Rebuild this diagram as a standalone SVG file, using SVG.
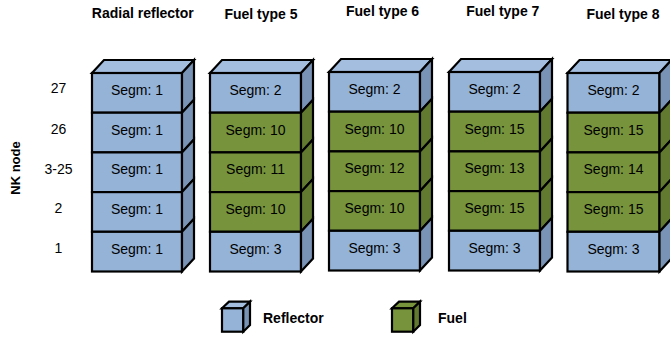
<svg xmlns="http://www.w3.org/2000/svg" width="670" height="338" viewBox="0 0 670 338">
<style>
  .bf{fill:#95B3D7;stroke:#000;stroke-width:2.2}
  .bt{fill:#A3BEDE;stroke:#000;stroke-width:2.2}
  .bs{fill:#7893B5;stroke:#000;stroke-width:2.2}
  .gf{fill:#77933C;stroke:#000;stroke-width:2.2}
  .gs{fill:#627A30;stroke:#000;stroke-width:2.2}
  .seg{font-family:"Liberation Sans",Arial,sans-serif;font-size:14px;fill:#000;text-anchor:middle}
  .hdr{font-family:"Liberation Sans",Arial,sans-serif;font-size:14px;font-weight:bold;fill:#000;text-anchor:middle}
  .nk{font-family:"Liberation Sans",Arial,sans-serif;font-size:13px;font-weight:bold;fill:#000;text-anchor:middle}
  .lbl{font-family:"Liberation Sans",Arial,sans-serif;font-size:14px;fill:#000;text-anchor:middle}
  .leg{font-family:"Liberation Sans",Arial,sans-serif;font-size:14px;font-weight:bold;fill:#000}
</style>
<rect width="670" height="338" fill="#fff"/>

<g id="headers">
  <text class="hdr" x="142.8" y="18.3">Radial reflector</text>
  <text class="hdr" x="261" y="18.5">Fuel type 5</text>
  <text class="hdr" x="382.6" y="16">Fuel type 6</text>
  <text class="hdr" x="502.8" y="16">Fuel type 7</text>
  <text class="hdr" x="623" y="18.5">Fuel type 8</text>
</g>

<g id="axis-labels">
  <text class="nk" transform="translate(20,168) rotate(-90)">NK node</text>
  <text class="lbl" x="58.5" y="93">27</text>
  <text class="lbl" x="58.5" y="133.5">26</text>
  <text class="lbl" x="58.5" y="173.5">3-25</text>
  <text class="lbl" x="58.5" y="213">2</text>
  <text class="lbl" x="58.5" y="253">1</text>
</g>

<!-- Radial reflector column -->
<g id="col-radial" transform="translate(92,73)">
  <polygon class="bt" points="0,0 12,-13 102,-13 90,0"/>
  <rect class="bf" x="0" y="0" width="90" height="39.7"/>
  <polygon class="bs" points="90,0 102,-13 102,26.7 90,39.7"/>
  <text class="seg" x="45" y="22">Segm: 1</text>
  <rect class="bf" x="0" y="39.7" width="90" height="39.7"/>
  <polygon class="bs" points="90,39.7 102,26.7 102,66.4 90,79.4"/>
  <text class="seg" x="45" y="61.7">Segm: 1</text>
  <rect class="bf" x="0" y="79.4" width="90" height="39.7"/>
  <polygon class="bs" points="90,79.4 102,66.4 102,106.1 90,119.1"/>
  <text class="seg" x="45" y="101.4">Segm: 1</text>
  <rect class="bf" x="0" y="119.1" width="90" height="39.7"/>
  <polygon class="bs" points="90,119.1 102,106.1 102,145.8 90,158.8"/>
  <text class="seg" x="45" y="141.1">Segm: 1</text>
  <rect class="bf" x="0" y="158.8" width="90" height="39.7"/>
  <polygon class="bs" points="90,158.8 102,145.8 102,185.5 90,198.5"/>
  <text class="seg" x="45" y="180.8">Segm: 1</text>
</g>

<!-- Fuel type 5 -->
<g id="col-fuel5" transform="translate(210,73)">
  <polygon class="bt" points="0,0 12,-13 103,-13 91,0"/>
  <rect class="bf" x="0" y="0" width="91" height="39.7"/>
  <polygon class="bs" points="91,0 103,-13 103,26.7 91,39.7"/>
  <text class="seg" x="45.5" y="22">Segm: 2</text>
  <rect class="gf" x="0" y="39.7" width="91" height="39.7"/>
  <polygon class="gs" points="91,39.7 103,26.7 103,66.4 91,79.4"/>
  <text class="seg" x="45.5" y="61.7">Segm: 10</text>
  <rect class="gf" x="0" y="79.4" width="91" height="39.7"/>
  <polygon class="gs" points="91,79.4 103,66.4 103,106.1 91,119.1"/>
  <text class="seg" x="45.5" y="101.4">Segm: 11</text>
  <rect class="gf" x="0" y="119.1" width="91" height="39.7"/>
  <polygon class="gs" points="91,119.1 103,106.1 103,145.8 91,158.8"/>
  <text class="seg" x="45.5" y="141.1">Segm: 10</text>
  <rect class="bf" x="0" y="158.8" width="91" height="39.7"/>
  <polygon class="bs" points="91,158.8 103,145.8 103,185.5 91,198.5"/>
  <text class="seg" x="45.5" y="180.8">Segm: 3</text>
</g>

<!-- Fuel type 6 -->
<g id="col-fuel6" transform="translate(329,72)">
  <polygon class="bt" points="0,0 12,-13 103,-13 91,0"/>
  <rect class="bf" x="0" y="0" width="91" height="39.7"/>
  <polygon class="bs" points="91,0 103,-13 103,26.7 91,39.7"/>
  <text class="seg" x="45.5" y="22">Segm: 2</text>
  <rect class="gf" x="0" y="39.7" width="91" height="39.7"/>
  <polygon class="gs" points="91,39.7 103,26.7 103,66.4 91,79.4"/>
  <text class="seg" x="45.5" y="61.7">Segm: 10</text>
  <rect class="gf" x="0" y="79.4" width="91" height="39.7"/>
  <polygon class="gs" points="91,79.4 103,66.4 103,106.1 91,119.1"/>
  <text class="seg" x="45.5" y="101.4">Segm: 12</text>
  <rect class="gf" x="0" y="119.1" width="91" height="39.7"/>
  <polygon class="gs" points="91,119.1 103,106.1 103,145.8 91,158.8"/>
  <text class="seg" x="45.5" y="141.1">Segm: 10</text>
  <rect class="bf" x="0" y="158.8" width="91" height="39.7"/>
  <polygon class="bs" points="91,158.8 103,145.8 103,185.5 91,198.5"/>
  <text class="seg" x="45.5" y="180.8">Segm: 3</text>
</g>

<!-- Fuel type 7 -->
<g id="col-fuel7" transform="translate(449,72)">
  <polygon class="bt" points="0,0 12,-13 103,-13 91,0"/>
  <rect class="bf" x="0" y="0" width="91" height="39.7"/>
  <polygon class="bs" points="91,0 103,-13 103,26.7 91,39.7"/>
  <text class="seg" x="45.5" y="22">Segm: 2</text>
  <rect class="gf" x="0" y="39.7" width="91" height="39.7"/>
  <polygon class="gs" points="91,39.7 103,26.7 103,66.4 91,79.4"/>
  <text class="seg" x="45.5" y="61.7">Segm: 15</text>
  <rect class="gf" x="0" y="79.4" width="91" height="39.7"/>
  <polygon class="gs" points="91,79.4 103,66.4 103,106.1 91,119.1"/>
  <text class="seg" x="45.5" y="101.4">Segm: 13</text>
  <rect class="gf" x="0" y="119.1" width="91" height="39.7"/>
  <polygon class="gs" points="91,119.1 103,106.1 103,145.8 91,158.8"/>
  <text class="seg" x="45.5" y="141.1">Segm: 15</text>
  <rect class="bf" x="0" y="158.8" width="91" height="39.7"/>
  <polygon class="bs" points="91,158.8 103,145.8 103,185.5 91,198.5"/>
  <text class="seg" x="45.5" y="180.8">Segm: 3</text>
</g>

<!-- Fuel type 8 -->
<g id="col-fuel8" transform="translate(567.5,73)">
  <polygon class="bt" points="0,0 12,-13 104,-13 92,0"/>
  <rect class="bf" x="0" y="0" width="92" height="39.7"/>
  <polygon class="bs" points="92,0 104,-13 104,26.7 92,39.7"/>
  <text class="seg" x="46" y="22">Segm: 2</text>
  <rect class="gf" x="0" y="39.7" width="92" height="39.7"/>
  <polygon class="gs" points="92,39.7 104,26.7 104,66.4 92,79.4"/>
  <text class="seg" x="46" y="61.7">Segm: 15</text>
  <rect class="gf" x="0" y="79.4" width="92" height="39.7"/>
  <polygon class="gs" points="92,79.4 104,66.4 104,106.1 92,119.1"/>
  <text class="seg" x="46" y="101.4">Segm: 14</text>
  <rect class="gf" x="0" y="119.1" width="92" height="39.7"/>
  <polygon class="gs" points="92,119.1 104,106.1 104,145.8 92,158.8"/>
  <text class="seg" x="46" y="141.1">Segm: 15</text>
  <rect class="bf" x="0" y="158.8" width="92" height="39.7"/>
  <polygon class="bs" points="92,158.8 104,145.8 104,185.5 92,198.5"/>
  <text class="seg" x="46" y="180.8">Segm: 3</text>
</g>

<!-- Legend -->
<g id="legend-reflector">
  <polygon class="bt" points="222,308.3 229,301.7 250,301.7 243.3,308.3"/>
  <rect class="bf" x="222" y="308.3" width="21.3" height="23.4"/>
  <polygon class="bs" points="243.3,308.3 250,301.7 250,325 243.3,331.7"/>
  <text class="leg" x="263" y="322.7">Reflector</text>
</g>
<g id="legend-fuel">
  <polygon class="gf" points="392,308.3 399,301.7 420,301.7 413.3,308.3"/>
  <rect class="gf" x="392" y="308.3" width="21.3" height="23.4"/>
  <polygon class="gs" points="413.3,308.3 420,301.7 420,325 413.3,331.7"/>
  <text class="leg" x="438" y="322.7">Fuel</text>
</g>

<g id="connectors"/>
</svg>
